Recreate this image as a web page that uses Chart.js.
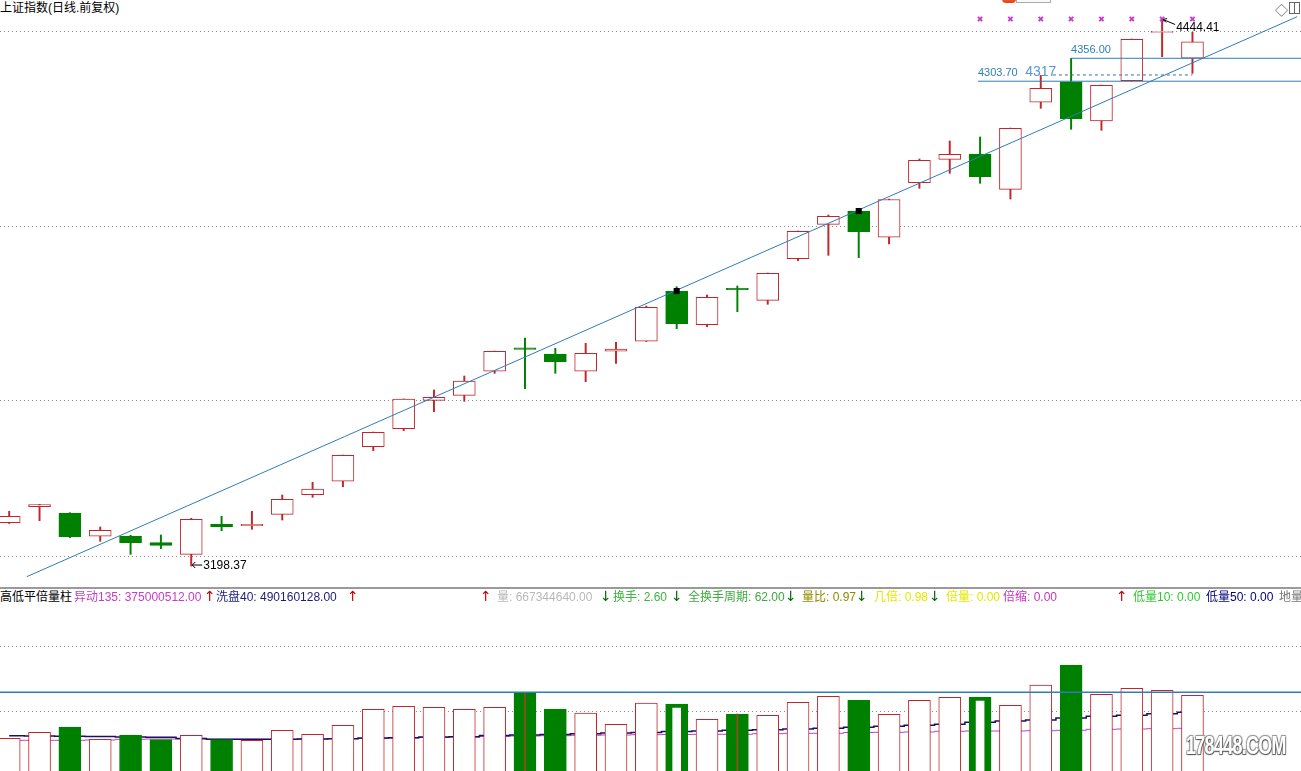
<!DOCTYPE html>
<html>
<head>
<meta charset="utf-8">
<script src="https://cdn.jsdelivr.net/npm/chart.js@4.4.1/dist/chart.umd.min.js"></script>
<style>
  body { margin: 0; background: #fff; width: 1301px; height: 771px; overflow: hidden; position: relative;
         font-family: 'Liberation Sans', 'Noto Sans CJK SC', sans-serif; }
  canvas { position: absolute; left: 0; }
  #priceChart { top: 0; }
  #volChart { top: 606px; }
  .t { position: absolute; top: 590px; font-size: 12px; line-height: 14px; white-space: nowrap; }
  .up, .dn { font-family: 'DejaVu Sans', sans-serif; font-size: 14px; top: 589px; }
  .up { color: #c80000; }
  .dn { color: #006400; }
  #title { position: absolute; left: 0; top: 1px; font-size: 12px; line-height: 14px; color: #000; }
  #sep { position: absolute; left: 0; top: 587px; width: 1301px; height: 2px; background: #9a9a9a; }
  #wm { position: absolute; left: 1186px; top: 731px; font: bold 25px 'Liberation Sans', sans-serif; color: #fff;
        transform: scaleX(0.72); transform-origin: left top; letter-spacing: -1px;
        text-shadow: 1px 1px 1px #555, -1px -1px 1px #999, 1px -1px 1px #999, -1px 1px 1px #777; }
</style>
</head>
<body>
<div id="title">上证指数(日线.前复权)</div>
<div style="position:absolute;left:1002px;top:-6px;width:14px;height:9px;border-radius:4px;background:linear-gradient(#ff7a30,#e0401a);"></div>
<div style="position:absolute;left:1016px;top:-2px;width:33px;height:3px;border:1px solid #aaa;background:#fafafa;"></div>
<div style="position:absolute;left:1275px;top:0px;font-size:13px;color:#555;">◇</div>
<div style="position:absolute;left:1289px;top:2px;width:9px;height:10px;border:1px solid #666;"></div>
<div style="position:absolute;left:1294px;top:2px;width:1px;height:11px;background:#666;"></div>

<canvas id="priceChart" width="1301" height="588"></canvas>
<div id="sep"></div>

<div class="t" style="left:0;color:#000">高低平倍量柱</div>
<div class="t" style="left:74px;color:#c83cc8">异动135: 375000512.00</div>
<div class="t up" style="left:204px">↑</div>
<div class="t" style="left:216px;color:#1c1c78">洗盘40: 490160128.00</div>
<div class="t up" style="left:347px">↑</div>
<div class="t up" style="left:480px">↑</div>
<div class="t" style="left:497px;color:#b8b8b8">量: 667344640.00</div>
<div class="t dn" style="left:600px">↓</div>
<div class="t" style="left:613px;color:#3cb43c">换手: 2.60</div>
<div class="t dn" style="left:671px">↓</div>
<div class="t" style="left:688px;color:#3caa3c">全换手周期: 62.00</div>
<div class="t dn" style="left:785px">↓</div>
<div class="t" style="left:802px;color:#8c8c00">量比: 0.97</div>
<div class="t dn" style="left:856px">↓</div>
<div class="t" style="left:874px;color:#e6e600">几倍: 0.98</div>
<div class="t dn" style="left:929px">↓</div>
<div class="t" style="left:946px;color:#e6e600">倍量: 0.00</div>
<div class="t" style="left:1003px;color:#c832c8">倍缩: 0.00</div>
<div class="t up" style="left:1116px">↑</div>
<div class="t" style="left:1133px;color:#32c832">低量10: 0.00</div>
<div class="t" style="left:1206px;color:#000080">低量50: 0.00</div>
<div class="t" style="left:1279px;color:#777">地量</div>

<canvas id="volChart" width="1301" height="165"></canvas>
<div id="wm">178448.COM</div>

<script>
// daily OHLC
const opens  = [3297.2, 3334.0, 3319.3, 3266.2, 3266.8, 3251.6, 3225.1, 3293.5, 3290.3, 3316.3,
                3361.0, 3391.6, 3470.4, 3511.5, 3576.2, 3587.6, 3642.4, 3696.0, 3681.8, 3642.4,
                3688.0, 3710.8, 3825.4, 3748.6, 3831.5, 3804.2, 3899.1, 3977.5, 4007.8, 3947.9,
                4072.4, 4125.7, 4137.8, 4057.3, 4255.7, 4302.6, 4213.0, 4304.9, 4415.0, 4356.0];
const highs  = [3323.2, 3339.1, 3320.0, 3287.4, 3268.4, 3269.1, 3307.2, 3311.8, 3323.2, 3360.3,
                3389.3, 3451.5, 3504.0, 3579.5, 3599.7, 3631.6, 3688.5, 3718.3, 3694.8, 3706.2,
                3708.5, 3791.2, 3835.2, 3816.3, 3836.8, 3866.5, 3962.3, 3998.7, 4012.4, 4035.0,
                4126.4, 4167.4, 4176.6, 4197.0, 4317.0, 4356.00, 4295.0, 4400.0, 4444.41, 4415.3];
const lows   = [3295.3, 3301.7, 3263.0, 3254.8, 3225.1, 3237.9, 3198.37, 3278.9, 3282.1, 3303.3,
                3355.1, 3379.2, 3461.3, 3506.9, 3550.2, 3574.0, 3637.8, 3602.7, 3637.8, 3618.6,
                3660.6, 3710.3, 3739.5, 3744.0, 3778.2, 3795.1, 3894.5, 3906.8, 3901.4, 3932.6,
                4059.6, 4093.8, 4071.0, 4035.2, 4242.0, 4194.1, 4191.8, 4303.70, 4359.6, 4321.8];
const closes = [3311.8, 3338.5, 3265.2, 3279.8, 3251.6, 3245.6, 3304.9, 3288.0, 3293.5, 3350.5,
                3374.0, 3450.8, 3503.3, 3579.2, 3583.1, 3620.2, 3688.0, 3692.5, 3664.2, 3683.4,
                3693.2, 3788.3, 3750.9, 3811.1, 3828.5, 3865.8, 3961.6, 3995.8, 3960.6, 4034.1,
                4123.4, 4137.1, 4086.0, 4196.4, 4287.6, 4218.3, 4294.4, 4399.3, 4417.3, 4393.8];

// volume (millions of shares) and its two averages
const volumes  = [288.4, 341.3, 388.1, 279.6, 317.5, 276.1, 314.9, 276.1, 270.8, 359.0,
                  323.7, 403.1, 544.2, 570.7, 561.8, 544.2, 561.8, 690.6, 546.8, 511.6,
                  411.9, 599.8, 590.9, 456.0, 502.7, 491.3, 605.9, 658.9, 626.2, 500.1,
                  623.6, 650.0, 652.7, 579.5, 758.5, 934.9, 676.5, 729.4, 711.8, 667.3];
const volMA40  = [311.3, 308.7, 306.1, 304.3, 299.9, 297.2, 286.7, 279.6, 279.6, 279.6,
                  282.2, 284.9, 291.1, 293.7, 299.9, 302.5, 313.1, 317.5, 321.9, 329.0,
                  335.2, 339.6, 348.4, 352.8, 359.0, 364.3, 370.4, 376.6, 385.4, 394.3,
                  403.1, 411.9, 429.5, 441.0, 449.8, 467.5, 482.5, 491.3, 505.4, 517.7];
const volMA135 = [270.8, 270.8, 270.8, 273.4, 279.6, 282.2, 282.2, 279.6, 279.6, 279.6,
                  282.2, 284.9, 286.7, 291.1, 295.5, 299.9, 304.3, 308.7, 311.3, 314.9,
                  317.5, 320.2, 321.9, 323.7, 323.7, 329.0, 332.5, 332.5, 339.6, 341.3,
                  344.0, 350.2, 352.8, 352.8, 355.4, 359.0, 367.8, 370.4, 373.1, 376.6];
const hollowGreenVol = [22, 32];
const dojiVol = [17, 24];
const volRefLine = 694;
const volGrid = [1093.7, 520.4];

// signals and drawn objects on the price panel
const topMarks = [32, 33, 34, 35, 36, 37, 38, 39];
const topMarkPrice = 4445.5;
const squareMarks = [22, 28];
const levelValues = [4356.00, 4303.70];
const levelLabels = ['4356.00', '4303.70'];
const levelStart = [35, 31.93];
const dashLevel = 4318;
const dashFrom = 34.4, dashTo = 39;
const trendX = [0.58, 42.45];
const trendY = [3174.1, 4450.8];
const priceGrid = [4416.0, 3973.6, 3576.9, 3221.2];

const X_MIN = -0.303, X_MAX = 42.577;
const RED = '#c0262b', GREEN = '#008000', BLUE = '#2f7db9';
const idx = opens.map((_, i) => i);
const isUp = i => closes[i] >= opens[i];

const annotations = {
  id: 'annotations',
  afterDatasetsDraw(chart) {
    const { ctx, scales: { x, y } } = chart;
    ctx.save();
    ctx.font = '11px "Liberation Sans"';
    ctx.fillStyle = BLUE;
    levelValues.forEach((v, k) => {
      ctx.fillText(levelLabels[k], x.getPixelForValue(levelStart[k]), y.getPixelForValue(v) - 5);
    });
    // high of the big up-shadow day
    const i34 = 34;
    ctx.font = '14px "Liberation Sans"';
    ctx.fillStyle = '#5a95d0';
    ctx.textAlign = 'center';
    ctx.fillText('4317', x.getPixelForValue(i34), y.getPixelForValue(highs[i34]) + 1);

    // highest high / lowest low
    ctx.textAlign = 'left';
    ctx.font = '12px "Liberation Sans"';
    ctx.fillStyle = '#000';
    ctx.strokeStyle = '#000';
    ctx.lineWidth = 1;
    const hi = highs.indexOf(Math.max(...highs));
    let px = x.getPixelForValue(hi), py = y.getPixelForValue(highs[hi]);
    ctx.beginPath();
    ctx.moveTo(px + 1, py); ctx.lineTo(px + 13, py + 5);
    ctx.moveTo(px + 1, py); ctx.lineTo(px + 5, py - 1);
    ctx.moveTo(px + 1, py); ctx.lineTo(px + 4, py + 3);
    ctx.stroke();
    ctx.textBaseline = 'middle';
    ctx.fillText(highs[hi].toFixed(2), px + 14, py + 8);

    const lo = lows.indexOf(Math.min(...lows));
    px = x.getPixelForValue(lo); py = y.getPixelForValue(lows[lo]) - 1;
    ctx.beginPath();
    ctx.moveTo(px + 1, py); ctx.lineTo(px + 11, py);
    ctx.moveTo(px + 1, py); ctx.lineTo(px + 4, py - 3);
    ctx.moveTo(px + 1, py); ctx.lineTo(px + 4, py + 3);
    ctx.stroke();
    ctx.fillText(lows[lo].toFixed(2), px + 12, py + 1);
    ctx.restore();
  }
};

const lineDs = (pts, color, extra) => Object.assign({
  type: 'line', data: pts, borderColor: color, borderWidth: 1, pointRadius: 0, fill: false, order: 1
}, extra || {});

const commonOpts = (yMin, yMax, grid) => ({
  responsive: false, animation: false, devicePixelRatio: 1,
  layout: { padding: 0, autoPadding: false },
  plugins: { legend: { display: false }, tooltip: { enabled: false } },
  scales: {
    x: { type: 'linear', min: X_MIN, max: X_MAX, offset: false, display: false },
    y: { type: 'linear', min: yMin, max: yMax, position: 'left',
         afterFit: s => { s.width = 0; },
         afterBuildTicks: s => { s.ticks = grid.map(v => ({ value: v })); },
         ticks: { display: false },
         grid: { color: '#8a8a8a', drawTicks: false, lineWidth: 1 },
         border: { display: false, dash: [1, 3] } }
  }
});

new Chart(document.getElementById('priceChart'), {
  type: 'bar',
  data: {
    datasets: [
      { type: 'bar', data: idx.map(i => ({ x: i, y: [lows[i], highs[i]] })),
        backgroundColor: idx.map(i => isUp(i) ? RED : GREEN), barThickness: 1.3, grouped: false, order: 6 },
      { type: 'bar', data: idx.map(i => ({ x: i, y: [opens[i], closes[i]] })),
        backgroundColor: idx.map(i => isUp(i) ? '#fff' : GREEN),
        borderColor: idx.map(i => isUp(i) ? RED : GREEN),
        borderWidth: 1, borderSkipped: false, barThickness: 22, grouped: false, order: 5 },
      lineDs([{ x: levelStart[0], y: levelValues[0] }, { x: X_MAX, y: levelValues[0] }], BLUE),
      lineDs([{ x: levelStart[1], y: levelValues[1] }, { x: X_MAX, y: levelValues[1] }], BLUE),
      lineDs([{ x: dashFrom, y: dashLevel }, { x: dashTo, y: dashLevel }], '#3a6f9f', { borderDash: [3, 3] }),
      lineDs([{ x: trendX[0], y: trendY[0] }, { x: trendX[1], y: trendY[1] }], BLUE),
      lineDs(topMarks.map(i => ({ x: i, y: topMarkPrice })), '#d030d0',
        { showLine: false, pointRadius: 3, pointStyle: 'crossRot', pointBorderWidth: 1.8, pointBorderColor: '#d030d0', order: 0 }),
      lineDs(squareMarks.map(i => ({ x: i, y: opens[i] })), '#000',
        { showLine: false, pointRadius: 4.3, pointStyle: 'rect', pointBackgroundColor: '#000', pointBorderWidth: 0, order: 0 })
    ]
  },
  options: commonOpts(3148.3, 4488.9, priceGrid),
  plugins: [annotations]
});

new Chart(document.getElementById('volChart'), {
  type: 'bar',
  data: {
    datasets: [
      { type: 'line', data: idx.map(i => ({ x: i, y: volMA40[i] })), stepped: 'middle',
        borderColor: '#1a1060', borderWidth: 1.5, pointRadius: 0, order: 4 },
      { type: 'line', data: idx.map(i => ({ x: i, y: volMA135[i] })), stepped: 'middle',
        borderColor: '#c040c0', borderWidth: 1, pointRadius: 0, order: 4 },
      { type: 'bar', data: idx.map(i => ({ x: i, y: volumes[i] })),
        backgroundColor: idx.map(i => isUp(i) || hollowGreenVol.includes(i) ? '#fff' : GREEN),
        borderColor: idx.map(i => isUp(i) ? RED : GREEN),
        borderWidth: idx.map(i => hollowGreenVol.includes(i) ? { left: 7, right: 7, top: 4, bottom: 0 } : 1),
        borderSkipped: 'start', barThickness: 22, grouped: false, order: 3 },
      { type: 'bar', data: dojiVol.map(i => ({ x: i, y: volumes[i] })),
        backgroundColor: '#9a4a20', barThickness: 1, grouped: false, order: 2 },
      { type: 'line', data: [{ x: X_MIN, y: volRefLine }, { x: X_MAX, y: volRefLine }],
        borderColor: BLUE, borderWidth: 1.5, pointRadius: 0, order: 1 }
    ]
  },
  options: commonOpts(0, 1455.3, volGrid)
});
</script>
</body>
</html>
